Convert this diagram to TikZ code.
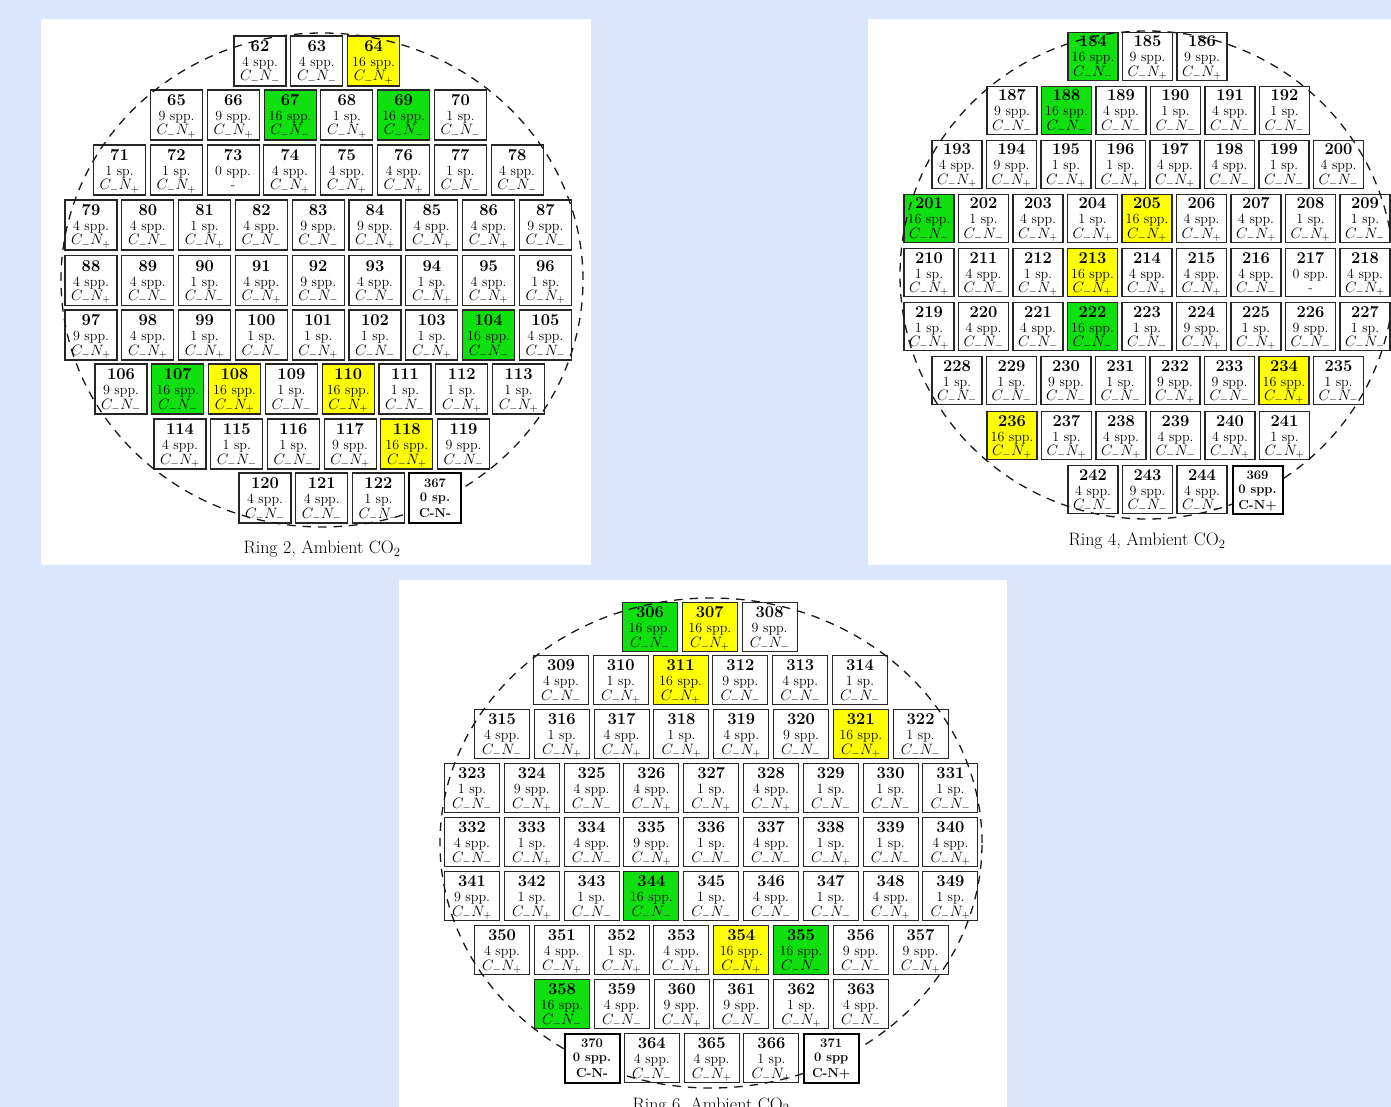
\RequirePackage{fix-cm}
\documentclass[tikz,border=0pt]{standalone}
\definecolor{bgblue}{RGB}{219,229,251}
\definecolor{cg}{RGB}{16,224,16}
\definecolor{cy}{RGB}{255,255,0}
\tikzset{
  cellbox/.style={draw=black!85, line width=1.1pt, minimum width=52pt, minimum height=50pt, inner sep=0pt, outer sep=0pt},
  specialbox/.style={draw=black, line width=2pt, fill=white, minimum width=52pt, minimum height=50pt, inner sep=0pt, outer sep=0pt},
  numtxt/.style={anchor=base, inner sep=0pt, font=\fontsize{16.5}{18}\selectfont\bfseries},
  spptxt/.style={anchor=base, inner sep=0pt, font=\fontsize{14}{16}\selectfont},
  cntxt/.style={anchor=base, inner sep=0pt, font=\fontsize{15}{17}\selectfont},
  spnum/.style={anchor=base, inner sep=0pt, font=\fontsize{13}{15}\selectfont\bfseries},
  sptxt/.style={anchor=base, inner sep=0pt, font=\fontsize{13}{15}\selectfont\bfseries},
  ringline/.style={draw=black!90, line width=1.3pt, dash pattern=on 8.5pt off 7pt},
  captxt/.style={anchor=base, inner sep=0pt, font=\fontsize{18}{20}\selectfont},
}
\newcommand{\cnm}{$C_-N_-$}
\newcommand{\cnp}{$C_-N_+$}
\newcommand{\cnd}{-}
\newcommand{\plotbox}[7]{%
  \node[cellbox, fill=#7] (#1) at (#2,#3) {};
  \node[numtxt] (#1n) at (#2,#3-9.5) {#4};
  \node[spptxt] (#1s) at (#2,#3+5.5) {#5};
  \node[cntxt] (#1c) at (#2,#3+20) {#6};
}
\newcommand{\plotrow}[5]{%
  \foreach \bnum/\bspp/\bcn/\bfc [count=\bi from 0] in {#5} {%
    \pgfmathsetmacro{\bxx}{#2+\bi*#4}%
    \plotbox{#1\bnum}{\bxx}{#3}{\bnum}{\bspp}{\csname cn\bcn\endcsname}{\bfc}%
  }%
}
\newcommand{\plotspecial}[6]{%
  \node[specialbox] (#1) at (#2,#3) {};
  \node[spnum] (#1n) at (#2,#3-10.5) {#4};
  \node[sptxt] (#1s) at (#2,#3+3.5) {#5};
  \node[sptxt] (#1c) at (#2,#3+19.5) {#6};
}
\begin{document}
\begin{tikzpicture}[x=1pt,y=-1pt]
\useasboundingbox (0,0) rectangle (1391,1107);
\clip (0,0) rectangle (1391,1107);
\fill[bgblue] (0,0) rectangle (1391,1107);
\fill[white] (41,19) rectangle (591,565);
\fill[white] (868,19) rectangle (1391,565);
\fill[white] (399,580) rectangle (1007,1107);

% ---------------- Ring 2 ----------------
\begin{scope}
\plotrow{r2-}{260}{61}{56.8}{62/4 spp./m/white, 63/4 spp./m/white, 64/16 spp./p/cy}
\plotrow{r2-}{176.5}{115}{56.8}{65/9 spp./p/white, 66/9 spp./p/white, 67/16 spp./m/cg, 68/1 sp./p/white, 69/16 spp./m/cg, 70/1 sp./m/white}
\plotrow{r2-}{119.5}{170}{56.8}{71/1 sp./p/white, 72/1 sp./p/white, 73/0 spp./d/white, 74/4 spp./p/white, 75/4 spp./p/white, 76/4 spp./p/white, 77/1 sp./m/white, 78/4 spp./m/white}
\plotrow{r2-}{91}{225}{56.8}{79/4 spp./p/white, 80/4 spp./m/white, 81/1 sp./p/white, 82/4 spp./m/white, 83/9 spp./m/white, 84/9 spp./p/white, 85/4 spp./p/white, 86/4 spp./p/white, 87/9 spp./m/white}
\plotrow{r2-}{91}{280.5}{56.8}{88/4 spp./p/white, 89/4 spp./m/white, 90/1 sp./m/white, 91/4 spp./p/white, 92/9 spp./m/white, 93/4 spp./m/white, 94/1 sp./p/white, 95/4 spp./p/white, 96/1 sp./p/white}
\plotrow{r2-}{91}{335}{56.8}{97/9 spp./p/white, 98/4 spp./p/white, 99/1 sp./p/white, 100/1 sp./m/white, 101/1 sp./p/white, 102/1 sp./m/white, 103/1 sp./p/white, 104/16 spp./m/cg, 105/4 spp./m/white}
\plotrow{r2-}{121}{389}{56.8}{106/9 spp./m/white, 107/16 spp./m/cg, 108/16 spp./p/cy, 109/1 sp./m/white, 110/16 spp./p/cy, 111/1 sp./m/white, 112/1 sp./p/white, 113/1 sp./p/white}
\plotrow{r2-}{180}{444}{56.7}{114/4 spp./p/white, 115/1 sp./m/white, 116/1 sp./m/white, 117/9 spp./p/white, 118/16 spp./p/cy, 119/9 spp./m/white}
\plotrow{r2-}{265}{498}{56.7}{120/4 spp./m/white, 121/4 spp./m/white, 122/1 sp./m/white}
\draw[ringline] (322,280) ellipse [x radius=261pt, y radius=247pt];
\plotspecial{r2-367}{435}{498}{367}{0 sp.}{C-N-}
\node[captxt] (cap2) at (322,553.5) {Ring 2, Ambient CO$_2$};
\end{scope}

% ---------------- Ring 4 ----------------
\begin{scope}[cellbox/.append style={minimum width=50pt, minimum height=48pt},
              specialbox/.append style={minimum width=50pt, minimum height=48pt}]
\plotrow{r4-}{1093}{56.5}{54.5}{184/16 spp./m/cg, 185/9 spp./p/white, 186/9 spp./p/white}
\plotrow{r4-}{1012}{110.5}{54.5}{187/9 spp./m/white, 188/16 spp./m/cg, 189/4 spp./m/white, 190/1 sp./m/white, 191/4 spp./m/white, 192/1 sp./m/white}
\plotrow{r4-}{957}{164.5}{54.5}{193/4 spp./p/white, 194/9 spp./p/white, 195/1 sp./p/white, 196/1 sp./p/white, 197/4 spp./p/white, 198/4 spp./m/white, 199/1 sp./m/white, 200/4 spp./m/white}
\plotrow{r4-}{929}{218.5}{54.5}{201/16 spp./m/cg, 202/1 sp./m/white, 203/4 spp./p/white, 204/1 sp./p/white, 205/16 spp./p/cy, 206/4 spp./p/white, 207/4 spp./p/white, 208/1 sp./p/white, 209/1 sp./m/white}
\plotrow{r4-}{929}{272.5}{54.5}{210/1 sp./p/white, 211/4 spp./m/white, 212/1 sp./p/white, 213/16 spp./p/cy, 214/4 spp./p/white, 215/4 spp./p/white, 216/4 spp./m/white, 217/0 spp./d/white, 218/4 spp./p/white}
\plotrow{r4-}{929}{326.5}{54.5}{219/1 sp./p/white, 220/4 spp./m/white, 221/4 spp./m/white, 222/16 spp./m/cg, 223/1 sp./m/white, 224/9 spp./p/white, 225/1 sp./p/white, 226/9 spp./m/white, 227/1 sp./m/white}
\plotrow{r4-}{957}{380.5}{54.5}{228/1 sp./m/white, 229/1 sp./m/white, 230/9 spp./m/white, 231/1 sp./m/white, 232/9 spp./p/white, 233/9 spp./m/white, 234/16 spp./p/cy, 235/1 sp./m/white}
\plotrow{r4-}{1012}{435.5}{54.5}{236/16 spp./p/cy, 237/1 sp./p/white, 238/4 spp./p/white, 239/4 spp./m/white, 240/4 spp./p/white, 241/1 sp./p/white}
\plotrow{r4-}{1093}{489.5}{54.5}{242/4 spp./m/white, 243/9 spp./m/white, 244/4 spp./m/white}
\draw[ringline] (1147,275) ellipse [x radius=247pt, y radius=244pt];
\plotspecial{r4-369}{1257.5}{489.5}{369}{0 spp.}{C-N+}
\node[captxt] (cap4) at (1147,545.5) {Ring 4, Ambient CO$_2$};
\end{scope}

% ---------------- Ring 6 ----------------
\begin{scope}[cellbox/.append style={minimum width=55pt, minimum height=49pt},
              specialbox/.append style={minimum width=55pt, minimum height=49pt}]
\plotrow{r6-}{650}{627}{59.8}{306/16 spp./m/cg, 307/16 spp./p/cy, 308/9 spp./m/white}
\plotrow{r6-}{561}{680}{59.8}{309/4 spp./m/white, 310/1 sp./p/white, 311/16 spp./p/cy, 312/9 spp./m/white, 313/4 spp./m/white, 314/1 sp./m/white}
\plotrow{r6-}{502}{734}{59.8}{315/4 spp./m/white, 316/1 sp./p/white, 317/4 spp./p/white, 318/1 sp./p/white, 319/4 spp./p/white, 320/9 spp./m/white, 321/16 spp./p/cy, 322/1 sp./m/white}
\plotrow{r6-}{472}{788}{59.8}{323/1 sp./m/white, 324/9 spp./p/white, 325/4 spp./m/white, 326/4 spp./p/white, 327/1 sp./p/white, 328/4 spp./p/white, 329/1 sp./m/white, 330/1 sp./m/white, 331/1 sp./m/white}
\plotrow{r6-}{472}{842}{59.8}{332/4 spp./m/white, 333/1 sp./p/white, 334/4 spp./m/white, 335/9 spp./p/white, 336/1 sp./m/white, 337/4 spp./m/white, 338/1 sp./p/white, 339/1 sp./m/white, 340/4 spp./p/white}
\plotrow{r6-}{472}{896}{59.8}{341/9 spp./p/white, 342/1 sp./p/white, 343/1 sp./m/white, 344/16 spp./m/cg, 345/1 sp./m/white, 346/4 spp./m/white, 347/1 sp./m/white, 348/4 spp./p/white, 349/1 sp./p/white}
\plotrow{r6-}{502}{950}{59.8}{350/4 spp./p/white, 351/4 spp./p/white, 352/1 sp./p/white, 353/4 spp./p/white, 354/16 spp./p/cy, 355/16 spp./m/cg, 356/9 spp./m/white, 357/9 spp./p/white}
\plotrow{r6-}{562}{1004}{59.8}{358/16 spp./m/cg, 359/4 spp./m/white, 360/9 spp./p/white, 361/9 spp./m/white, 362/1 sp./p/white, 363/4 spp./m/white}
\plotrow{r6-}{651.8}{1058}{59.8}{364/4 spp./m/white, 365/4 spp./p/white, 366/1 sp./p/white}
\draw[ringline] (711,843) ellipse [x radius=271pt, y radius=245pt];
\plotspecial{r6-370}{592}{1058}{370}{0 spp.}{C-N-}
\plotspecial{r6-371}{831.2}{1058}{371}{0 spp}{C-N+}
\node[captxt] (cap6) at (711,1110) {Ring 6, Ambient CO$_2$};
\end{scope}
\end{tikzpicture}
\end{document}
